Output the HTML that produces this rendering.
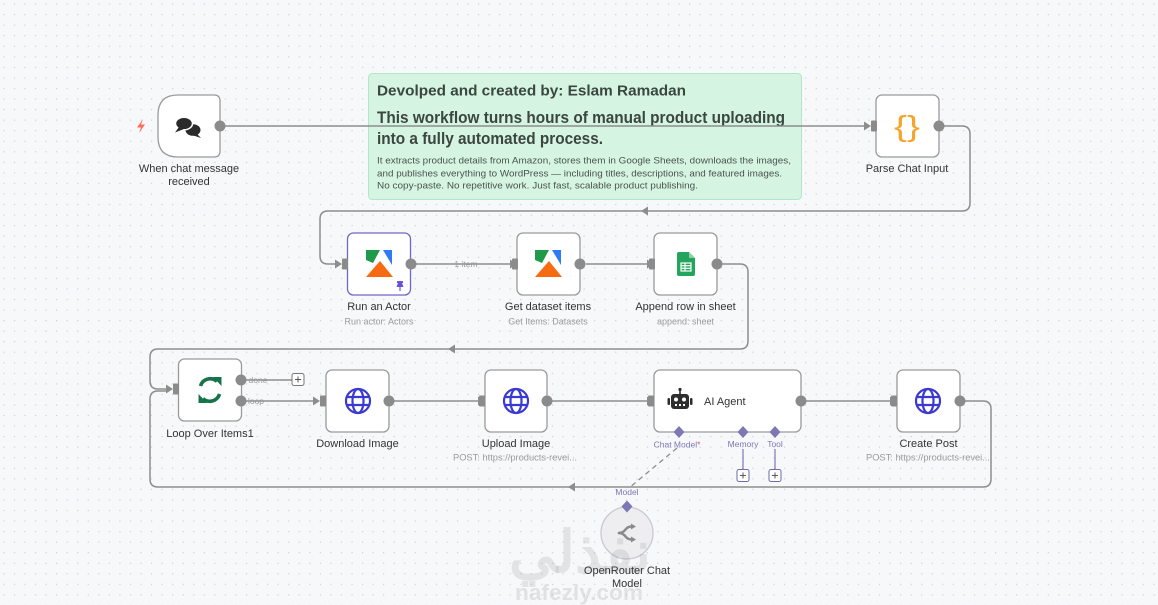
<!DOCTYPE html>
<html>
<head>
<meta charset="utf-8">
<style>
html,body{margin:0;padding:0;background:#f7f8fa;}
svg{display:block;}
text{font-family:"Liberation Sans",Arial,sans-serif;}
</style>
</head>
<body>
<svg width="1158" height="605" viewBox="0 0 1158 605" xmlns="http://www.w3.org/2000/svg">
<defs>
<pattern id="dots" x="3.3" y="3.5" width="10.55" height="10.55" patternUnits="userSpaceOnUse">
<circle cx="0.6" cy="0.6" r="0.65" fill="#c9cbd3"/>
</pattern>
</defs>
<rect width="1158" height="605" fill="#f7f8fa"/>
<rect width="1158" height="605" fill="url(#dots)"/>

<!-- Sticky note -->
<rect x="368.5" y="73.5" width="433" height="126" rx="4" fill="#d5f4e2" stroke="#b2e6c8" stroke-width="1"/>
<text x="377" y="95.5" font-size="15" font-weight="bold" fill="#3b4640" textLength="309" lengthAdjust="spacingAndGlyphs">Devolped and created by: Eslam Ramadan</text>
<text x="377" y="123" font-size="17" font-weight="bold" fill="#3b4640" textLength="408" lengthAdjust="spacingAndGlyphs">This workflow turns hours of manual product uploading</text>
<text x="377" y="144" font-size="17" font-weight="bold" fill="#3b4640" textLength="226" lengthAdjust="spacingAndGlyphs">into a fully automated process.</text>
<text x="377" y="163.5" font-size="9.5" fill="#4a534e" textLength="414" lengthAdjust="spacingAndGlyphs">It extracts product details from Amazon, stores them in Google Sheets, downloads the images,</text>
<text x="377" y="176.5" font-size="9.5" fill="#4a534e" textLength="405" lengthAdjust="spacingAndGlyphs">and publishes everything to WordPress — including titles, descriptions, and featured images.</text>
<text x="377" y="188.5" font-size="9.5" fill="#4a534e" textLength="321" lengthAdjust="spacingAndGlyphs">No copy-paste. No repetitive work. Just fast, scalable product publishing.</text>

<!-- Edges -->
<g fill="none" stroke="#8d8d8d" stroke-width="1.5">
<path d="M225,126 H866"/>
<path d="M944,126 H962 Q970,126 970,134 V203 Q970,211 962,211 H328 Q320,211 320,219 V256 Q320,264 328,264 H337"/>
<path d="M416,264 H512"/>
<path d="M586,264 H649"/>
<path d="M722,264 H740 Q748,264 748,272 V341 Q748,349 740,349 H158 Q150,349 150,357 V381 Q150,389 158,389 H168"/>
<path d="M246,380 H292"/>
<path d="M246,401 H315"/>
<path d="M394,401 H480"/>
<path d="M552,401 H649"/>
<path d="M806,401 H892"/>
<path d="M965,401 H983 Q991,401 991,409 V479 Q991,487 983,487 H158 Q150,487 150,479 V399 Q150,391 158,391 H168"/>
</g>
<path d="M677,448 L629,488" fill="none" stroke="#8d8d8d" stroke-width="1.3" stroke-dasharray="5,4"/>

<!-- Arrowheads -->
<g fill="#8d8d8d">
<polygon points="864,121.5 871,126 864,130.5"/>
<polygon points="335,259.5 342,264 335,268.5"/>
<polygon points="510,259.5 517,264 510,268.5"/>
<polygon points="647,259.5 654,264 647,268.5"/>
<polygon points="166,384.5 173,389 166,393.5"/>
<polygon points="313,396.5 320,401 313,405.5"/>
<polygon points="478,396.5 485,401 478,405.5"/>
<polygon points="647,396.5 654,401 647,405.5"/>
<polygon points="890,396.5 897,401 890,405.5"/>
<polygon points="641,211 648,206.5 648,215.5"/>
<polygon points="448,349 455,344.5 455,353.5"/>
<polygon points="568,487 575,482.5 575,491.5"/>
</g>

<!-- Chat trigger node -->
<path d="M178,95 H214 Q220,95 220,101 V151 Q220,157 214,157 H178 Q158,157 158,137 V115 Q158,95 178,95 Z" fill="#fff" stroke="#9a9a9a" stroke-width="1.3"/>
<circle cx="220" cy="126" r="5.5" fill="#8b8b8b"/>
<polygon points="143,119 137,127.5 141,127.5 139,133 145,124.5 141,124.5" fill="#ff6d5a"/>
<g fill="#2a2a2a">
<ellipse cx="193" cy="130" rx="7.5" ry="5.8"/>
<polygon points="196,133 201,138 192,135"/>
<ellipse cx="184" cy="123.5" rx="8.5" ry="6.3" stroke="#fff" stroke-width="1.5"/>
<polygon points="179,127 175,132.5 184,129"/>
</g>
<text x="189" y="172" font-size="11" fill="#333" text-anchor="middle">When chat message</text>
<text x="189" y="185" font-size="11" fill="#333" text-anchor="middle">received</text>

<!-- Parse Chat Input -->
<rect x="876" y="95" width="63" height="62" rx="6" fill="#fff" stroke="#9a9a9a" stroke-width="1.3"/>
<rect x="871" y="120.5" width="6" height="11" rx="1" fill="#8b8b8b"/>
<circle cx="939" cy="126" r="5.5" fill="#8b8b8b"/>
<text x="907" y="136" font-size="29" fill="#f5a42c" text-anchor="middle" textLength="26" lengthAdjust="spacingAndGlyphs">{}</text>
<text x="907" y="172" font-size="11" fill="#333" text-anchor="middle">Parse Chat Input</text>

<!-- Run an Actor -->
<rect x="347.5" y="233" width="63" height="62" rx="6" fill="#fff" stroke="#7065cc" stroke-width="1.3"/>
<rect x="342" y="258.5" width="6" height="11" rx="1" fill="#8b8b8b"/>
<circle cx="411" cy="264" r="5.5" fill="#8b8b8b"/>
<g transform="translate(366,250)">
<polygon points="0,0 14,0 7,13 0,10" fill="#1f9a4a"/>
<polygon points="17,0 26,0 26,15" fill="#2f7bf5"/>
<polygon points="14,11 27,27 0,27" fill="#f66a12"/>
</g>
<g fill="#6a4fd8">
<rect x="397" y="281" width="6" height="2" rx="0.5"/>
<polygon points="398,283 402,283 403.5,287 396.5,287"/>
<rect x="399.4" y="287" width="1.2" height="4"/>
</g>
<text x="379" y="310" font-size="11" fill="#333" text-anchor="middle">Run an Actor</text>
<text x="379" y="324.5" font-size="9" fill="#9a9a9a" text-anchor="middle">Run actor: Actors</text>

<text x="466" y="267" font-size="8.5" fill="#999" text-anchor="middle">1 item</text>

<!-- Get dataset items -->
<rect x="517" y="233" width="63" height="62" rx="6" fill="#fff" stroke="#9a9a9a" stroke-width="1.3"/>
<rect x="512" y="258.5" width="6" height="11" rx="1" fill="#8b8b8b"/>
<circle cx="580" cy="264" r="5.5" fill="#8b8b8b"/>
<g transform="translate(535,250)">
<polygon points="0,0 14,0 7,13 0,10" fill="#1f9a4a"/>
<polygon points="17,0 26,0 26,15" fill="#2f7bf5"/>
<polygon points="14,11 27,27 0,27" fill="#f66a12"/>
</g>
<text x="548" y="310" font-size="11" fill="#333" text-anchor="middle">Get dataset items</text>
<text x="548" y="324.5" font-size="9" fill="#9a9a9a" text-anchor="middle">Get Items: Datasets</text>

<!-- Append row in sheet -->
<rect x="654" y="233" width="63" height="62" rx="6" fill="#fff" stroke="#9a9a9a" stroke-width="1.3"/>
<rect x="649" y="258.5" width="6" height="11" rx="1" fill="#8b8b8b"/>
<circle cx="717" cy="264" r="5.5" fill="#8b8b8b"/>
<path d="M677,254 Q677,252 679,252 H689 L695,258 V274 Q695,276 693,276 H679 Q677,276 677,274 Z" fill="#23a55e"/>
<path d="M689,252 V258 H695 Z" fill="#8ed1a8"/>
<g fill="none" stroke="#fff" stroke-width="1.2">
<rect x="681" y="263" width="10" height="8"/>
<line x1="681" y1="265.7" x2="691" y2="265.7"/>
<line x1="681" y1="268.3" x2="691" y2="268.3"/>
<line x1="685" y1="263" x2="685" y2="271"/>
</g>
<text x="685.5" y="310" font-size="11" fill="#333" text-anchor="middle">Append row in sheet</text>
<text x="685.5" y="324.5" font-size="9" fill="#9a9a9a" text-anchor="middle">append: sheet</text>

<!-- Loop Over Items1 -->
<rect x="178.5" y="359" width="63" height="62" rx="6" fill="#fff" stroke="#9a9a9a" stroke-width="1.3"/>
<rect x="173" y="383.5" width="6" height="11" rx="1" fill="#8b8b8b"/>
<circle cx="241" cy="380" r="5.5" fill="#8b8b8b"/>
<circle cx="241" cy="401" r="5.5" fill="#8b8b8b"/>
<g fill="none" stroke="#17744a" stroke-width="3.6" stroke-linecap="butt">
<path d="M200.5,386 A10,10 0 0 1 217,381.5"/>
<path d="M219.5,394 A10,10 0 0 1 203,398.5"/>
</g>
<g fill="#17744a">
<polygon points="213,377 221.5,377 221.5,386"/>
<polygon points="207,403 198.5,403 198.5,394"/>
</g>
<text x="210" y="437" font-size="11" fill="#333" text-anchor="middle">Loop Over Items1</text>
<text x="258" y="383" font-size="8.5" fill="#999" text-anchor="middle">done</text>
<text x="256" y="404" font-size="8.5" fill="#999" text-anchor="middle">loop</text>
<rect x="292" y="373.5" width="12" height="12" rx="2" fill="#fff" stroke="#777" stroke-width="1"/>
<path d="M298,376.5 V382.5 M295,379.5 H301" stroke="#555" stroke-width="1"/>

<!-- Download Image -->
<rect x="326" y="370" width="63" height="62" rx="6" fill="#fff" stroke="#9a9a9a" stroke-width="1.3"/>
<rect x="320" y="395.5" width="6" height="11" rx="1" fill="#8b8b8b"/>
<circle cx="389" cy="401" r="5.5" fill="#8b8b8b"/>
<g fill="none" stroke="#3a3ad0" stroke-width="2.2">
<circle cx="358" cy="401" r="12"/>
<ellipse cx="358" cy="401" rx="5.5" ry="12"/>
<line x1="346.5" y1="397" x2="369.5" y2="397"/>
<line x1="346.5" y1="405" x2="369.5" y2="405"/>
</g>
<text x="357.5" y="447" font-size="11" fill="#333" text-anchor="middle">Download Image</text>

<!-- Upload Image -->
<rect x="485" y="370" width="62" height="62" rx="6" fill="#fff" stroke="#9a9a9a" stroke-width="1.3"/>
<rect x="479" y="395.5" width="6" height="11" rx="1" fill="#8b8b8b"/>
<circle cx="547" cy="401" r="5.5" fill="#8b8b8b"/>
<g fill="none" stroke="#3a3ad0" stroke-width="2.2">
<circle cx="516" cy="401" r="12"/>
<ellipse cx="516" cy="401" rx="5.5" ry="12"/>
<line x1="504.5" y1="397" x2="527.5" y2="397"/>
<line x1="504.5" y1="405" x2="527.5" y2="405"/>
</g>
<text x="516" y="447" font-size="11" fill="#333" text-anchor="middle">Upload Image</text>
<text x="515" y="460.5" font-size="9" fill="#9a9a9a" text-anchor="middle" textLength="124" lengthAdjust="spacingAndGlyphs">POST: https://products-revei...</text>

<!-- AI Agent -->
<rect x="654" y="370" width="147" height="62" rx="6" fill="#fff" stroke="#9a9a9a" stroke-width="1.3"/>
<rect x="648" y="395.5" width="6" height="11" rx="1" fill="#8b8b8b"/>
<circle cx="801" cy="401" r="5.5" fill="#8b8b8b"/>
<g fill="#2e2e2e">
<rect x="671" y="394" width="18" height="15" rx="3"/>
<rect x="667.5" y="398" width="2.5" height="7" rx="1"/>
<rect x="690" y="398" width="2.5" height="7" rx="1"/>
<rect x="679.2" y="390" width="1.6" height="4"/>
<circle cx="680" cy="389.5" r="1.6"/>
</g>
<g fill="#fff">
<circle cx="676" cy="399.5" r="2"/>
<circle cx="684" cy="399.5" r="2"/>
<rect x="675" y="404" width="2" height="2"/>
<rect x="679" y="404" width="2" height="2"/>
<rect x="683" y="404" width="2" height="2"/>
</g>
<text x="704" y="405" font-size="11" fill="#333">AI Agent</text>
<g fill="#7d78b3">
<polygon points="679,426 684.5,432 679,438 673.5,432"/>
<polygon points="743,426 748.5,432 743,438 737.5,432"/>
<polygon points="775,426 780.5,432 775,438 769.5,432"/>
</g>
<g stroke="#7d78b3" stroke-width="1.2">
<line x1="743" y1="449" x2="743" y2="469"/>
<line x1="775" y1="449" x2="775" y2="469"/>
</g>
<text x="677" y="447.5" font-size="8.5" fill="#7d78b3" text-anchor="middle">Chat Model<tspan fill="#e04a6a">*</tspan></text>
<text x="743" y="447" font-size="8.5" fill="#7d78b3" text-anchor="middle">Memory</text>
<text x="775" y="447" font-size="8.5" fill="#7d78b3" text-anchor="middle">Tool</text>
<rect x="737" y="469.5" width="12" height="12" rx="2" fill="#fff" stroke="#6f6aa8" stroke-width="1"/>
<path d="M743,472.5 V478.5 M740,475.5 H746" stroke="#555" stroke-width="1"/>
<rect x="769" y="469.5" width="12" height="12" rx="2" fill="#fff" stroke="#6f6aa8" stroke-width="1"/>
<path d="M775,472.5 V478.5 M772,475.5 H778" stroke="#555" stroke-width="1"/>

<!-- Create Post -->
<rect x="897" y="370" width="63" height="62" rx="6" fill="#fff" stroke="#9a9a9a" stroke-width="1.3"/>
<rect x="891" y="395.5" width="6" height="11" rx="1" fill="#8b8b8b"/>
<circle cx="960" cy="401" r="5.5" fill="#8b8b8b"/>
<g fill="none" stroke="#3a3ad0" stroke-width="2.2">
<circle cx="928" cy="401" r="12"/>
<ellipse cx="928" cy="401" rx="5.5" ry="12"/>
<line x1="916.5" y1="397" x2="939.5" y2="397"/>
<line x1="916.5" y1="405" x2="939.5" y2="405"/>
</g>
<text x="928.5" y="447" font-size="11" fill="#333" text-anchor="middle">Create Post</text>
<text x="928" y="460.5" font-size="9" fill="#9a9a9a" text-anchor="middle" textLength="124" lengthAdjust="spacingAndGlyphs">POST: https://products-revei...</text>

<!-- OpenRouter Chat Model -->
<circle cx="627" cy="533" r="26" fill="#eeeef1" stroke="#c9c9cf" stroke-width="1.3"/>
<g fill="none" stroke="#8a8a8a" stroke-width="2.5" stroke-linecap="round">
<path d="M619,533 Q623,533 626,529 Q628,526.5 632,526.5"/>
<path d="M619,533 Q623,533 626,537 Q628,539.5 632,539.5"/>
</g>
<g fill="#8a8a8a">
<polygon points="631,523.5 636,526.5 631,529.5"/>
<polygon points="631,536.5 636,539.5 631,542.5"/>
</g>
<polygon points="627,500.5 632.5,506.5 627,512.5 621.5,506.5" fill="#7d78b3"/>
<text x="627" y="495" font-size="8.5" fill="#7d78b3" text-anchor="middle">Model</text>

<!-- watermark -->
<text x="580" y="572" font-size="58" font-weight="bold" fill="#9a9a9a" fill-opacity="0.22" text-anchor="middle" font-family="'Liberation Sans','Noto Sans CJK SC','DejaVu Sans',sans-serif">نفذلي</text>
<text x="579" y="600" font-size="22" font-weight="bold" fill="#9a9a9a" fill-opacity="0.24" text-anchor="middle" textLength="128" lengthAdjust="spacingAndGlyphs">nafezly.com</text>

<text x="627" y="574" font-size="11" fill="#333" text-anchor="middle">OpenRouter Chat</text>
<text x="627" y="587" font-size="11" fill="#333" text-anchor="middle">Model</text>
</svg>
</body>
</html>
